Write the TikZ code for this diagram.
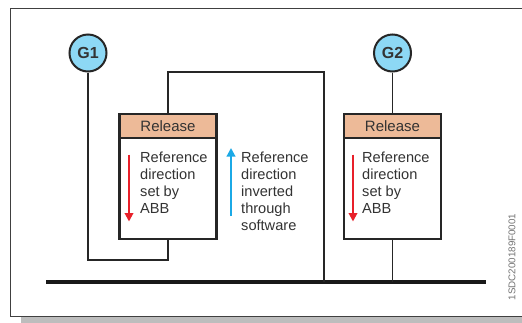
\documentclass[tikz,border=0pt]{standalone}
\usepackage{fontspec}
\setmainfont{Liberation Sans}
\usetikzlibrary{arrows.meta}
\definecolor{txt}{HTML}{333333}
\definecolor{gfill}{HTML}{8DD8F5}
\definecolor{hfill}{HTML}{EDBA98}
\definecolor{redA}{HTML}{E8202A}
\definecolor{blueA}{HTML}{1BA9E6}
\definecolor{frm}{HTML}{404040}
\definecolor{shd}{HTML}{BDBDBD}
\tikzset{
  gen/.style={circle, draw=black!85, line width=2pt, fill=gfill, minimum size=37pt, inner sep=0pt, font=\bfseries\fontsize{16}{18}\selectfont, text=txt},
  hdr/.style={rectangle, draw=black!85, line width=2.2pt, fill=hfill, minimum width=97pt, minimum height=24pt, inner sep=0pt, font=\fontsize{15}{17}\selectfont, text=txt},
  body/.style={rectangle, draw=black!85, line width=2.2pt, fill=white, minimum width=97pt, minimum height=101pt, inner sep=0pt},
  lbl/.style={anchor=north west, inner sep=0pt, align=left, font=\fontsize{14.6}{17}\selectfont, text=txt},
  wire/.style={draw=black!85, line width=1.8pt},
  busline/.style={draw=black!90, line width=3.4pt},
  redarrow/.style={draw=redA, line width=2pt, -{Triangle[width=8.5pt,length=8.5pt]}},
  bluearrow/.style={draw=blueA, line width=2pt, -{Triangle[width=8.5pt,length=8.5pt]}}
}
\begin{document}
\begin{tikzpicture}[x=1pt,y=-1pt]
\useasboundingbox (0,0) rectangle (522,322);
\clip (0,0) rectangle (522,322);
% frame and shadow
\fill[shd] (21,317) rectangle (540,323);
\draw[frm, line width=1pt, fill=white] (10,8) rectangle (540,316);
% bus
\coordinate (busL) at (46,282);
\coordinate (busR) at (486,282);
\draw[busline] (busL) -- (busR);
% boxes
\node[body] (b1) at (168,188.5) {};
\node[hdr] (r1) at (168,126) {Release};
\node[body] (b2) at (392.5,188.5) {};
\node[hdr] (r2) at (392.5,126) {Release};
% generators
\node[gen] (g1) at (88,53) {G1};
\node[gen] (g2) at (392.5,53) {G2};
% connectors
\coordinate (tap1) at (324,282);
\draw[wire] (g1.south) |- ([yshift=-20pt]b1.south) -- (b1.south);
\draw[wire] (r1.north) |- ([yshift=41pt]tap1 |- r1.north) -- (tap1);
\draw[wire] (g2.south) -- (r2.north);
\draw[wire] (b2.south) -- (b2.south |- busL);
% texts
\node[lbl] (t1) at (140,151.5) {Reference\\direction\\set by\\ABB};
\node[lbl] (t2) at (241,151.5) {Reference\\direction\\inverted\\through\\software};
\node[lbl] (t3) at (362,151.5) {Reference\\direction\\set by\\ABB};
\draw[redarrow] ([xshift=-11pt,yshift=-3pt]t1.north west) -- ++(0,67);
\draw[bluearrow] ([xshift=-10pt,yshift=-64.5pt]t2.north west) -- ++(0,-68);
\draw[redarrow] ([xshift=-9pt,yshift=-3pt]t3.north west) -- ++(0,67);
% code
\node[rotate=90, inner sep=0pt, font=\fontsize{9.8}{10}\selectfont, text=black!55] (code) at (512,257) {1SDC200189F0001};
\end{tikzpicture}
\end{document}
